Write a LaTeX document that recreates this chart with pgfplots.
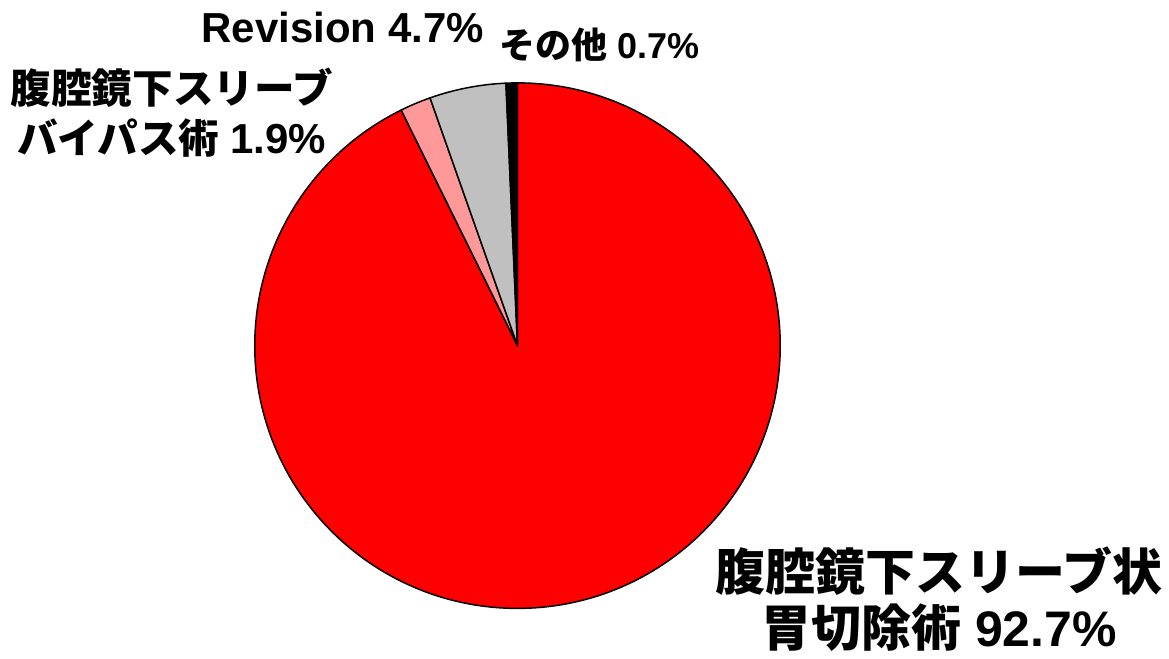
\documentclass[border=0pt]{standalone}
\usepackage{pgfplots}
\pgfplotsset{compat=1.18}
\usepackage{pgfplotstable}
\usepackage{fontspec}
\setmainfont{Liberation Sans}
\newfontfamily\jp{Noto Sans CJK JP}
\definecolor{sliceRed}{HTML}{FF0000}
\definecolor{slicePink}{HTML}{FF9999}
\definecolor{sliceGray}{HTML}{C0C0C0}
\definecolor{sliceBlack}{HTML}{000000}

\pgfplotstableread{
label value
LSG 92.7
LSGB 1.9
Revision 4.7
Other 0.7
}\piedata

\pgfplotstablegetelem{0}{value}\of\piedata \let\va\pgfplotsretval
\pgfplotstablegetelem{1}{value}\of\piedata \let\vb\pgfplotsretval
\pgfplotstablegetelem{2}{value}\of\piedata \let\vc\pgfplotsretval
\pgfplotstablegetelem{3}{value}\of\piedata \let\vd\pgfplotsretval
\pgfmathsetmacro\aS{90}
\pgfmathsetmacro\aA{\aS-3.6*\va}
\pgfmathsetmacro\aB{\aA-3.6*\vb}
\pgfmathsetmacro\aC{\aB-3.6*\vc}
\pgfmathsetmacro\aD{\aC-3.6*\vd}
\def\R{131.5pt}

\begin{document}
\begin{tikzpicture}
\begin{axis}[
  width=584.5pt, height=327pt, scale only axis,
  xmin=0, xmax=1169, ymin=0, ymax=654,
  hide axis, clip=false,
]
\path (axis cs:0,0) rectangle (axis cs:1169,654);
\filldraw[fill=sliceRed, draw=black, line width=0.75pt, line join=round]
  (axis cs:518,308) -- ++(\aS:\R) arc[start angle=\aS, end angle=\aA, radius=\R] -- cycle;
\filldraw[fill=slicePink, draw=black, line width=0.75pt, line join=round]
  (axis cs:518,308) -- ++(\aA:\R) arc[start angle=\aA, end angle=\aB, radius=\R] -- cycle;
\filldraw[fill=sliceGray, draw=black, line width=0.75pt, line join=round]
  (axis cs:518,308) -- ++(\aB:\R) arc[start angle=\aB, end angle=\aC, radius=\R] -- cycle;
\filldraw[fill=sliceBlack, draw=black, line width=0.75pt, line join=round]
  (axis cs:518,308) -- ++(\aC:\R) arc[start angle=\aC, end angle=\aD, radius=\R] -- cycle;

\node[font=\bfseries\fontsize{21pt}{24pt}\selectfont] at (axis cs:343,626) {Revision 4.7\%};
\node[font=\bfseries\fontsize{18pt}{22pt}\selectfont] at (axis cs:600,609) {{\jp その他} 0.7\%};
\node[font=\bfseries\fontsize{20.3pt}{25pt}\selectfont, align=center] at (axis cs:172,541)
  {{\jp 腹腔鏡下スリーブ}\\{\jp バイパス術} {\fontsize{21pt}{25pt}\selectfont 1.9\%}};
\node[font=\bfseries\fontsize{25pt}{28pt}\selectfont, align=center] at (axis cs:940,54)
  {{\jp 腹腔鏡下スリーブ状}\\{\jp 胃切除術} 92.7\%};
\end{axis}
\end{tikzpicture}
\end{document}
